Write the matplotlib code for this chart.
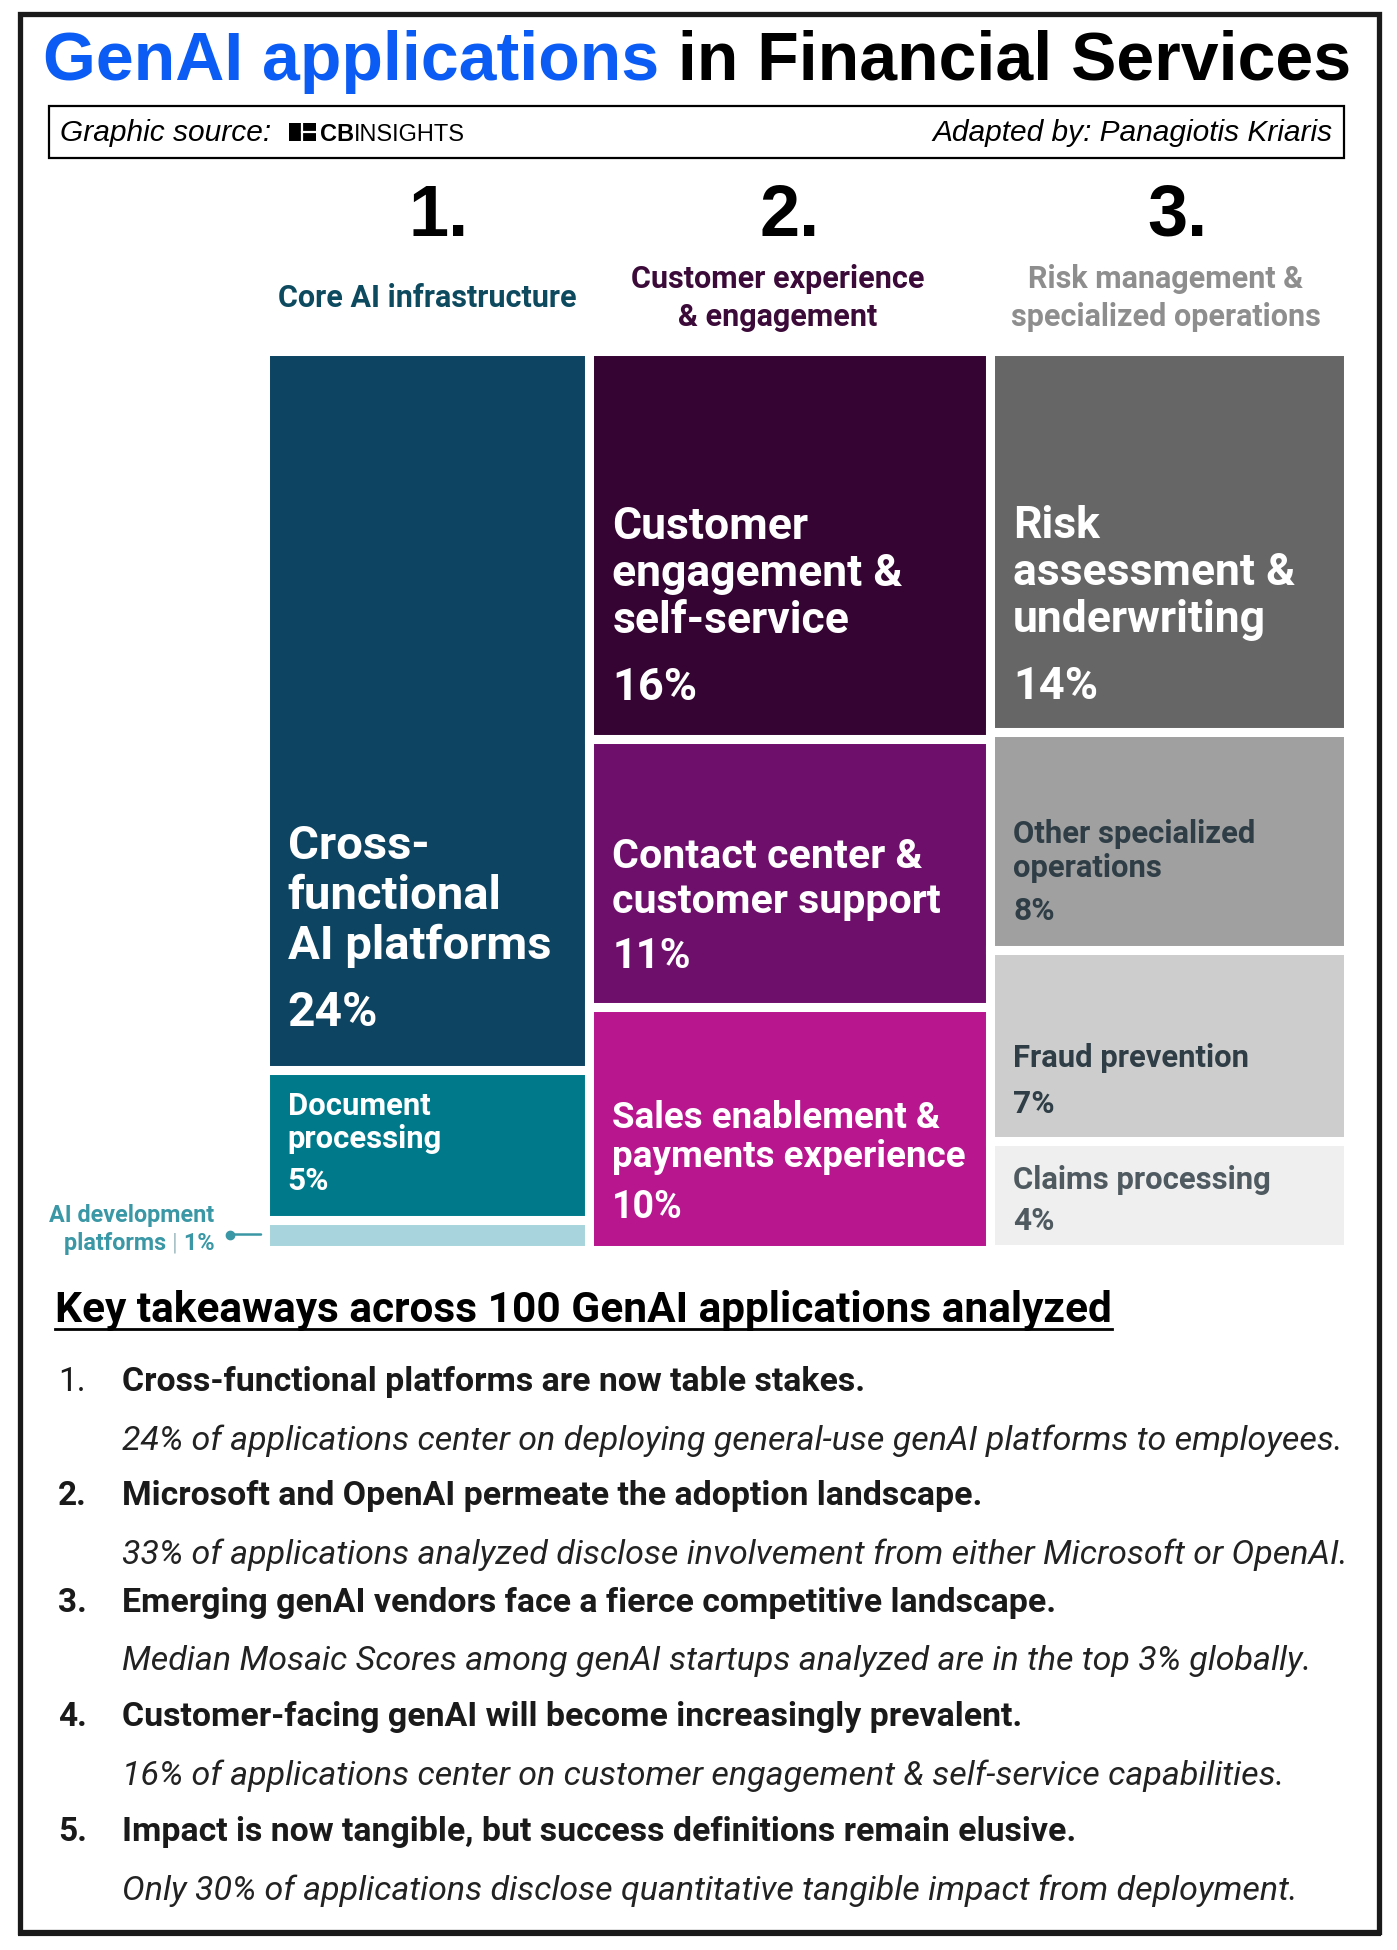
import matplotlib.pyplot as plt
from matplotlib.patches import Rectangle
from matplotlib.transforms import ScaledTranslation

W, H = 1397, 1950
DPI = 100

# ---- data ----
col_numbers = ['1.', '2.', '3.']
col_titles = ['Core AI infrastructure',
              'Customer experience\n& engagement',
              'Risk management &\nspecialized operations']

col1_labels = ['Cross-\nfunctional\nAI platforms', 'Document\nprocessing', 'AI development\nplatforms']
col1_values = [24, 5, 1]
col2_labels = ['Customer\nengagement &\nself-service', 'Contact center &\ncustomer support',
               'Sales enablement &\npayments experience']
col2_values = [16, 11, 10]
col3_labels = ['Risk\nassessment &\nunderwriting', 'Other specialized\noperations',
               'Fraud prevention', 'Claims processing']
col3_values = [14, 8, 7, 4]

takeaway_titles = ['Cross-functional platforms are now table stakes.',
                   'Microsoft and OpenAI permeate the adoption landscape.',
                   'Emerging genAI vendors face a fierce competitive landscape.',
                   'Customer-facing genAI will become increasingly prevalent.',
                   'Impact is now tangible, but success definitions remain elusive.']
takeaway_details = ['24% of applications center on deploying general-use genAI platforms to employees.',
                    '33% of applications analyzed disclose involvement from either Microsoft or OpenAI.',
                    'Median Mosaic Scores among genAI startups analyzed are in the top 3% globally.',
                    '16% of applications center on customer engagement & self-service capabilities.',
                    'Only 30% of applications disclose quantitative tangible impact from deployment.']

# ---- styles ----
col1_colors = ['#0c4461', '#007a8b', '#a8d5dd']
col2_colors = ['#360433', '#6f0f6c', '#b7168f']
col3_colors = ['#666666', '#a0a0a0', '#cdcdcd', '#efefef']
col1_text = ['white', 'white', None]
col2_text = ['white', 'white', 'white']
col3_text = ['white', '#2f3e46', '#2f3e46', '#4f5a60']
# (font size pt, line height px, gap pct->last line px, pct baseline above box bottom px)
col1_fmt = [(34, 50, 67, 48), (22.3, 33.5, 42, 34), None]
col2_fmt = [(32, 47, 67, 44), (29.6, 45, 55, 43), (26.5, 39, 51, 36)]
col3_fmt = [(32, 47, 67, 37), (22.3, 33.5, 43.5, 34), (22.3, 33.5, 46, 32), (22.3, 33.5, 41, 24)]
header_colors = ['#0d4a5f', '#3b0a39', '#8e8e8e']
number_dx = [12, 0, 9]
header_dx = [0, -12, -3]

FONT = 'Roboto'
TEAL = '#3a97a5'

fig = plt.figure(figsize=(W / DPI, H / DPI), dpi=DPI)
renderer = fig.canvas.get_renderer()
bg = fig.add_axes([0, 0, 1, 1])
bg.set_xlim(0, W)
bg.set_ylim(H, 0)
bg.axis('off')

# outer frame
bg.add_patch(Rectangle((20, 14), 1359, 1918, fill=False, lw=3.8, ec='#1a1a1a'))
bg.plot([18, 1381], [1934, 1934], color='#1a1a1a', lw=3, solid_capstyle='butt')

# title
t1 = bg.text(43, 80, 'GenAI applications', fontsize=49, fontweight='bold',
             family='Liberation Sans', color='#0b5cf5', va='baseline')
w1 = t1.get_window_extent(renderer).width
bg.text(43 + w1, 80, ' in Financial Services', fontsize=49, fontweight='bold',
        family='Liberation Sans', color='black', va='baseline')

# source box
bg.add_patch(Rectangle((49, 106), 1295, 52, fill=False, lw=1.6, ec='black'))
bg.text(60, 141, 'Graphic source:', fontsize=21.5, style='italic',
        family='Liberation Sans', va='baseline')
bg.add_patch(Rectangle((289, 123), 27, 18, fc='black', ec='none'))
bg.plot([302, 302], [123, 141], color='white', lw=1.6)
bg.plot([302, 316], [132, 132], color='white', lw=1.6)
tcb = bg.text(320, 141, 'CB', fontsize=17, fontweight='bold', family='Liberation Sans', va='baseline')
wcb = tcb.get_window_extent(renderer).width
bg.text(320 + wcb, 141, 'INSIGHTS', fontsize=17, family='Liberation Sans', va='baseline')
bg.text(1333, 141, 'Adapted by: Panagiotis Kriaris', fontsize=21.5, style='italic',
        family='Liberation Sans', va='baseline', ha='right')

# ---- treemap ----
x0, x1, y0, y1 = 264.5, 1347.5, 350.5, 1249.5
tm = fig.add_axes([x0 / W, 1 - y1 / H, (x1 - x0) / W, (y1 - y0) / H])
tm.set_xlim(0, 100)
tm.set_ylim(1, 0)
tm.axis('off')


def put(text, xy, dx, dy, **kw):
    return tm.annotate(text, xy, xytext=(dx, dy), textcoords='offset pixels',
                       family=FONT, annotation_clip=False, **kw)


columns = [(col1_labels, col1_values, col1_colors, col1_text, col1_fmt),
           (col2_labels, col2_values, col2_colors, col2_text, col2_fmt),
           (col3_labels, col3_values, col3_colors, col3_text, col3_fmt)]

left = 0
for i, (labels, values, colors, tcols, fmts) in enumerate(columns):
    total = sum(values)
    top = 0
    for lab, v, c, tc, fmt in zip(labels, values, colors, tcols, fmts):
        frac = v / total
        tm.bar(left, frac, bottom=top, width=total, align='edge',
               color=c, edgecolor='white', linewidth=6.5)
        bottom = top + frac
        if fmt is not None:
            fs, line_h, gap, pad = fmt
            base = pad - 4.5
            put(f'{v}%', (left, bottom), 23, base, fontsize=fs + 0.5,
                fontweight='bold', color=tc, va='baseline', ha='left')
            lines = lab.split('\n')
            for j, ln in enumerate(reversed(lines)):
                put(ln, (left, bottom), 23, base + gap + j * line_h, fontsize=fs,
                    fontweight='bold', color=tc, va='baseline', ha='left')
        else:
            yc = top + frac / 2
            tm.annotate('', (left, yc), xytext=(-35, 0), textcoords='offset pixels',
                        arrowprops=dict(arrowstyle='-', color=TEAL, lw=1.8,
                                        shrinkA=0, shrinkB=2.5))
            tm.plot([left], [yc], 'o', ms=6, color=TEAL, clip_on=False,
                    transform=tm.transData + ScaledTranslation(-35 / DPI, 0, fig.dpi_scale_trans))
            name1, name2 = lab.split('\n')
            put(name1, (left, yc), -50, 13, fontsize=16.8, fontweight='bold',
                color=TEAL, ha='right', va='baseline')
            tp = put(f' {v}%', (left, yc), -50, -15, fontsize=16.8, fontweight='bold',
                     color=TEAL, ha='right', va='baseline')
            wp = tp.get_window_extent(renderer).width
            tb = put('|', (left, yc), -50 - wp, -15, fontsize=16.8, color='#a9c3c8',
                     ha='right', va='baseline')
            wb = tb.get_window_extent(renderer).width
            put(name2 + ' ', (left, yc), -50 - wp - wb, -15, fontsize=16.8,
                fontweight='bold', color=TEAL, ha='right', va='baseline')
        top = bottom
    center = left + total / 2
    tm.annotate(col_numbers[i], (center, 0), xytext=(number_dx[i], y0 - 236),
                textcoords='offset pixels', fontsize=52, fontweight='bold',
                family='Liberation Sans', ha='center', va='baseline')
    put(col_titles[i], (center, 0), header_dx[i], y0 - 298, fontsize=22,
        fontweight='bold', color=header_colors[i], ha='center', va='center',
        linespacing=1.37)
    left += total

# ---- key takeaways ----
hd = bg.text(55, 1322, 'Key takeaways across 100 GenAI applications analyzed', fontsize=30.5,
             fontweight='bold', family=FONT, va='baseline')
hw = hd.get_window_extent(renderer).width
bg.plot([55, 55 + hw], [1329, 1329], color='black', lw=2)

title_base = [1391, 1505, 1612, 1726, 1841]
detail_base = [1450, 1564, 1670, 1785, 1900]
for k, (tt, dd) in enumerate(zip(takeaway_titles, takeaway_details)):
    bg.text(58, title_base[k], f'{k + 1}.', fontsize=24,
            fontweight='normal' if k == 0 else 'bold', family=FONT, va='baseline',
            color='#1a1a1a')
    bg.text(122, title_base[k], tt, fontsize=24.4, fontweight='bold', family=FONT,
            va='baseline', color='#1a1a1a')
    bg.text(122, detail_base[k], dd, fontsize=24.5, style='italic', fontweight='normal',
            family=FONT, va='baseline', color='#222222')

fig.savefig('out.png', dpi=DPI)
